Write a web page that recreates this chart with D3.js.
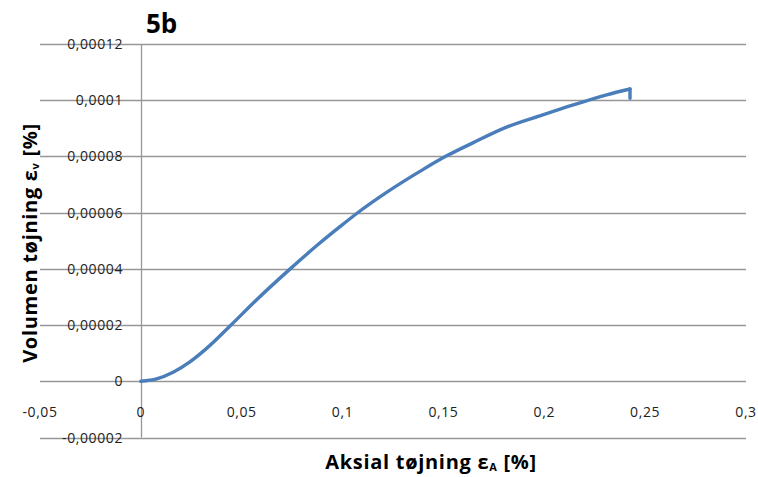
<!DOCTYPE html>
<html>
<head>
<meta charset="utf-8">
<script src="https://cdn.jsdelivr.net/npm/d3@7"></script>
<style>
  html, body { margin: 0; padding: 0; background: #fff; }
  svg { display: block; }
</style>
</head>
<body>
<svg id="chart" width="758" height="477"></svg>
<script>
// Data
const axialStrain = [0, 0.0078, 0.0160, 0.0243, 0.0326, 0.0441, 0.0574, 0.0739, 0.0871, 0.0987, 0.1070, 0.1235, 0.1400, 0.1516, 0.1648, 0.1813, 0.1978, 0.2144, 0.2309, 0.2425, 0.2425];
const volumeStrain = [0, 0.00000085, 0.0000032, 0.0000069, 0.0000117, 0.0000196, 0.0000290, 0.0000399, 0.0000482, 0.0000550, 0.0000597, 0.0000680, 0.0000754, 0.0000802, 0.0000849, 0.0000904, 0.0000944, 0.0000983, 0.0001019, 0.0001040, 0.0001007];
const xTicks = [-0.05, 0, 0.05, 0.1, 0.15, 0.2, 0.25, 0.3];
const xTickLabels = ["-0,05", "0", "0,05", "0,1", "0,15", "0,2", "0,25", "0,3"];
const yTicks = [-0.00002, 0, 0.00002, 0.00004, 0.00006, 0.00008, 0.0001, 0.00012];
const yTickLabels = ["-0,00002", "0", "0,00002", "0,00004", "0,00006", "0,00008", "0,0001", "0,00012"];
const chartTitle = "5b";

(function () {
const svg = d3.select("#chart");
const FONT = "'Open Sans', Lato, sans-serif";
const pLeft = 40, pRight = 746, pTop = 44, pBottom = 437.5;

const x = d3.scaleLinear().domain([-0.05, 0.3]).range([pLeft, pRight]);
const y = d3.scaleLinear().domain([-0.00002, 0.00012]).range([pBottom, pTop]);

// horizontal gridlines
svg.append("g").selectAll("line").data(yTicks).join("line")
  .attr("x1", pLeft).attr("x2", pRight)
  .attr("y1", d => Math.round(y(d)) + 0.5).attr("y2", d => Math.round(y(d)) + 0.5)
  .attr("stroke", "#979797").attr("stroke-width", 1.3);

// vertical axis at x = 0
svg.append("line")
  .attr("x1", Math.round(x(0)) + 0.5).attr("x2", Math.round(x(0)) + 0.5)
  .attr("y1", y(0.00012)).attr("y2", y(-0.00002))
  .attr("stroke", "#979797").attr("stroke-width", 1.3);

// y tick labels
svg.append("g").selectAll("text").data(yTicks).join("text")
  .attr("x", 123).attr("y", d => y(d))
  .attr("dy", "0.36em")
  .attr("text-anchor", "end")
  .attr("font-family", FONT).attr("font-size", 14).attr("letter-spacing", 0.6)
  .attr("fill", "#222")
  .text((d, i) => yTickLabels[i]);

// x tick labels
svg.append("g").selectAll("text").data(xTicks).join("text")
  .attr("x", d => x(d)).attr("y", 412)
  .attr("dy", "0.36em")
  .attr("text-anchor", "middle")
  .attr("font-family", FONT).attr("font-size", 14).attr("letter-spacing", 0.6)
  .attr("fill", "#222")
  .text((d, i) => xTickLabels[i]);

// data line: smooth monotone main curve, then the final drop as a straight segment
const pts = axialStrain.map((v, i) => [v, volumeStrain[i]]);
const n = pts.length;
const smooth = d3.line().x(d => x(d[0])).y(d => y(d[1])).curve(d3.curveMonotoneX);
const straight = d3.line().x(d => x(d[0])).y(d => y(d[1]));
const g = svg.append("g")
  .attr("fill", "none")
  .attr("stroke", "#4a7ebb")
  .attr("stroke-width", 3.4)
  .attr("stroke-linejoin", "round")
  .attr("stroke-linecap", "round");
g.append("path").attr("d", smooth(pts.slice(0, n - 1)));
g.append("path").attr("d", straight(pts.slice(n - 2)));

// title
svg.append("text")
  .attr("x", 146).attr("y", 33)
  .attr("font-family", FONT).attr("font-weight", "bold").attr("font-size", 26)
  .attr("fill", "#000")
  .text(chartTitle);

// x axis title
const xt = svg.append("text")
  .attr("x", 431).attr("y", 469)
  .attr("text-anchor", "middle")
  .attr("font-family", FONT).attr("font-weight", "bold").attr("font-size", 20)
  .attr("letter-spacing", 0.7)
  .attr("fill", "#000");
xt.append("tspan").text("Aksial tøjning ε");
xt.append("tspan").attr("font-size", 11).attr("dy", 2).text("A");
xt.append("tspan").attr("dy", -2).text(" [%]");

// y axis title
const yt = svg.append("text")
  .attr("transform", "translate(37,243) rotate(-90)")
  .attr("text-anchor", "middle")
  .attr("font-family", FONT).attr("font-weight", "bold").attr("font-size", 20)
  .attr("letter-spacing", 0.7)
  .attr("fill", "#000");
yt.append("tspan").text("Volumen tøjning ε");
yt.append("tspan").attr("font-size", 11).attr("dy", 2).text("v");
yt.append("tspan").attr("dy", -2).text(" [%]");
})();
</script>
</body>
</html>
